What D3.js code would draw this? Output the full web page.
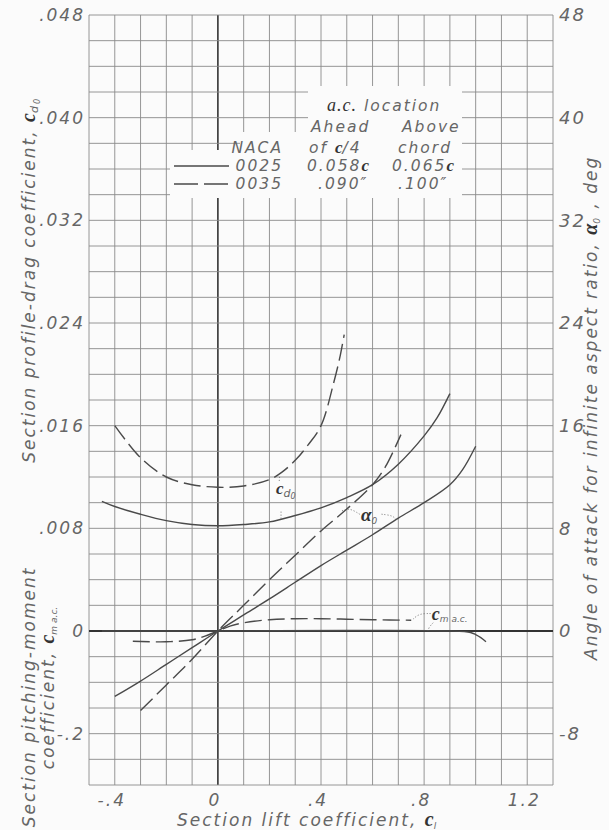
<!DOCTYPE html>
<html><head><meta charset="utf-8">
<script src="https://cdn.jsdelivr.net/npm/d3@7"></script>
<style>
body{margin:0;background:#fff}
svg text{font-family:"DejaVu Sans",sans-serif;font-style:italic;fill:#666;letter-spacing:2px}
svg .sym{font-family:"Liberation Serif",serif;font-weight:bold;font-style:italic;fill:#333;letter-spacing:0}
</style></head><body>
<svg id="chart" width="609" height="830"></svg>
<script>
// ---- data ----
const clTickVals = [-0.4, 0, 0.4, 0.8, 1.2];
const clTickLabels = ["-.4", "0", ".4", ".8", "1.2"];
const cdTickVals = [0, 0.008, 0.016, 0.024, 0.032, 0.040, 0.048];
const cdTickLabels = ["0", ".008", ".016", ".024", ".032", ".040", ".048"];
const cmTickVals = [-0.2];
const cmTickLabels = ["-.2"];
const alphaTickVals = [-8, 0, 8, 16, 24, 32, 40, 48];
const alphaTickLabels = ["-8", "0", "8", "16", "24", "32", "40", "48"];

const cd0025Cl = [-0.45,-0.4,-0.3,-0.2,-0.1,0,0.1,0.2,0.3,0.4,0.5,0.6,0.7,0.8,0.85,0.9];
const cd0025   = [0.0101,0.0097,0.0091,0.0086,0.0083,0.0082,0.0083,0.0085,0.0090,0.0096,0.0104,0.0114,0.0130,0.0152,0.0166,0.0185];
const cd0035Cl = [-0.4,-0.3,-0.2,-0.1,0,0.1,0.2,0.25,0.3,0.35,0.4,0.45,0.475,0.49];
const cd0035   = [0.0160,0.0135,0.0120,0.0114,0.0112,0.0113,0.0118,0.0124,0.0133,0.0145,0.0160,0.0194,0.0215,0.0231];

const alpha0025Cl = [-0.4,-0.3,-0.2,-0.1,0,0.1,0.2,0.3,0.4,0.5,0.6,0.7,0.8,0.9,0.95,1.0];
const alpha0025   = [-5.1,-3.9,-2.6,-1.3,0,1.25,2.5,3.8,5.1,6.3,7.5,8.8,10.0,11.4,12.6,14.4];
const alpha0035Cl = [-0.3,-0.2,-0.1,0,0.1,0.2,0.3,0.4,0.5,0.6,0.65,0.71];
const alpha0035   = [-6.2,-4.2,-2.2,0,2.0,4.0,5.9,7.8,9.5,11.4,12.8,15.3];

const cm0025Cl = [-0.45,0,0.5,0.9,0.98,1.0,1.02,1.04];
const cm0025   = [0.0,0.0,0.001,0.0,-0.003,-0.007,-0.013,-0.021];
const cm0035Cl = [-0.33,-0.2,-0.1,-0.05,0,0.05,0.1,0.2,0.3,0.4,0.5,0.6,0.75];
const cm0035   = [-0.020,-0.021,-0.017,-0.010,0,0.010,0.016,0.022,0.024,0.024,0.023,0.022,0.021];

// ---- layout ----
const svg = d3.select("#chart");
const L = 89, R = 553, T = 15, B = 785;
svg.append("rect").attr("width",609).attr("height",830).attr("fill","#fbfbfb");

const x = d3.scaleLinear([-0.5, 1.3], [L, R]);
const yCd = d3.scaleLinear([-0.012, 0.048], [B, T]);
const yA = d3.scaleLinear([-12, 48], [B, T]);
const yCm = d3.scaleLinear([-0.3, 1.2], [B, T]);

// grid
const g = svg.append("g");
const vGrid = d3.range(-5, 14).map(i => i / 10);
const hGrid = d3.range(-6, 25).map(i => i * 0.002);
g.selectAll("line.v").data(vGrid).join("line")
  .attr("x1", d => x(d)).attr("x2", d => x(d)).attr("y1", T).attr("y2", B)
  .attr("stroke", d => Math.abs(d) < 1e-9 ? "#333" : "#8a8a8a")
  .attr("stroke-width", d => Math.abs(d) < 1e-9 ? 1.6 : 0.9);
g.selectAll("line.h").data(hGrid).join("line")
  .attr("y1", d => yCd(d)).attr("y2", d => yCd(d)).attr("x1", L).attr("x2", R)
  .attr("stroke", d => Math.abs(d) < 1e-9 ? "#333" : "#8a8a8a")
  .attr("stroke-width", d => Math.abs(d) < 1e-9 ? 2 : 0.9);

// legend mask
const maskG = svg.append("g").attr("fill", "#fbfbfb");
maskG.append("rect").attr("x", 308).attr("y", 86).attr("width", 154).attr("height", 112);
maskG.append("rect").attr("x", 240).attr("y", 132).attr("width", 70).attr("height", 66);
maskG.append("rect").attr("x", 170).attr("y", 150).attr("width", 72).attr("height", 48);

// axis tick labels
const fs = 17;
svg.append("g").selectAll("text").data(clTickVals).join("text")
  .attr("x", d => x(d) - 3).attr("y", 806).attr("text-anchor", "middle")
  .attr("font-size", fs).text((d, i) => clTickLabels[i]);
svg.append("g").selectAll("text").data(cdTickVals).join("text")
  .attr("x", L - 4).attr("y", d => yCd(d)).attr("dy", "0.36em").attr("text-anchor", "end")
  .attr("font-size", fs).text((d, i) => cdTickLabels[i]);
svg.append("g").selectAll("text").data(cmTickVals).join("text")
  .attr("x", L - 4).attr("y", d => yCm(d)).attr("dy", "0.36em").attr("text-anchor", "end")
  .attr("font-size", fs).text((d, i) => cmTickLabels[i]);
svg.append("g").selectAll("text").data(alphaTickVals).join("text")
  .attr("x", R + 6).attr("y", d => yA(d)).attr("dy", "0.36em").attr("text-anchor", "start")
  .attr("font-size", fs + 1).text((d, i) => alphaTickLabels[i]);

// curves
const stroke = "#4a4a4a";
function curve(cls, vals, ys, dashed) {
  const pts = cls.map((c, i) => [x(c), ys(vals[i])]);
  svg.append("path").attr("d", d3.line().curve(d3.curveCatmullRom.alpha(0.5))(pts))
    .attr("fill", "none").attr("stroke", stroke).attr("stroke-width", 1.4)
    .attr("stroke-dasharray", dashed ? "17,6" : null);
}
curve(cd0025Cl, cd0025, yCd, false);
curve(cd0035Cl, cd0035, yCd, true);
curve(alpha0025Cl, alpha0025, yA, false);
curve(alpha0035Cl, alpha0035, yA, true);
curve(cm0025Cl, cm0025, yCm, false);
curve(cm0035Cl, cm0035, yCm, true);

// annotations (label anchors in data coordinates)
const dotted = sel => sel.attr("fill", "none").attr("stroke", "#666").attr("stroke-width", 0.9).attr("stroke-dasharray", "1,2");
// c_d0
const cdLab = {cl: 0.225, cd: 0.0107};
const t1 = svg.append("text").attr("x", x(cdLab.cl)).attr("y", yCd(cdLab.cd)).attr("style", "letter-spacing:0");
t1.append("tspan").attr("class", "sym").attr("font-size", 17).text("c");
t1.append("tspan").attr("font-size", 11).attr("dy", 3).text("d");
t1.append("tspan").attr("font-size", 8).attr("dy", 2).text("0");
dotted(svg.append("path")).attr("d", d3.line()([[x(0.238), yCd(0.0117)], [x(0.24), yCd(0.0121)]]));
dotted(svg.append("path")).attr("d", d3.line()([[x(0.245), yCd(0.0093)], [x(0.245), yCd(0.0087)]]));
// alpha0
const aLab = {cl: 0.555, a: 8.6};
const t2 = svg.append("text").attr("x", x(aLab.cl)).attr("y", yA(aLab.a)).attr("style", "letter-spacing:0");
t2.append("tspan").attr("class", "sym").attr("font-size", 19).text("α");
t2.append("tspan").attr("font-size", 9).attr("dy", 3).text("0");
dotted(svg.append("path")).attr("d", d3.line().curve(d3.curveBasis)([[x(0.55), yA(9.1)], [x(0.51), yA(9.6)], [x(0.48), yA(9.35)]]));
dotted(svg.append("path")).attr("d", d3.line().curve(d3.curveBasis)([[x(0.635), yA(9.1)], [x(0.68), yA(9.0)], [x(0.695), yA(8.6)]]));
// c_m a.c.
const cmLab = {cl: 0.83, cm: 0.022};
const t3 = svg.append("text").attr("x", x(cmLab.cl)).attr("y", yCm(cmLab.cm)).attr("style", "letter-spacing:0");
t3.append("tspan").attr("class", "sym").attr("font-size", 18).text("c");
t3.append("tspan").attr("font-size", 9).attr("dy", 2).text("m a.c.");
dotted(svg.append("path")).attr("d", d3.line().curve(d3.curveBasis)([[x(0.825), yCm(0.034)], [x(0.78), yCm(0.034)], [x(0.755), yCm(0.022)]]));
dotted(svg.append("path")).attr("d", d3.line().curve(d3.curveBasis)([[x(0.835), yCm(0.016)], [x(0.82), yCm(0.008)], [x(0.815), yCm(0.001)]]));

// legend
const lg = svg.append("g").attr("font-size", 15.5);
const lt = (xx, yy, anchor) => lg.append("text").attr("x", xx).attr("y", yy).attr("text-anchor", anchor || "start");
let t = lt(327, 111);
t.append("tspan").attr("class", "sym").attr("style", "font-weight:normal;letter-spacing:1px").attr("font-size", 18).text("a.c.");
t.append("tspan").text(" location");
lt(311, 132).text("Ahead");
lt(402, 132).text("Above");
lt(283, 153, "end").text("NACA");
t = lt(309, 153); t.append("tspan").text("of "); t.append("tspan").attr("class", "sym").attr("font-size", 17).text("c"); t.append("tspan").text("/4");
lt(398, 153).text("chord");
lt(283, 171, "end").text("0025");
t = lt(307, 171); t.append("tspan").text("0.058"); t.append("tspan").attr("class", "sym").attr("font-size", 17).text("c");
t = lt(392, 171); t.append("tspan").text("0.065"); t.append("tspan").attr("class", "sym").attr("font-size", 17).text("c");
lt(283, 189, "end").text("0035");
lt(318, 189).text(".090\u2033");
lt(398, 189).text(".100\u2033");
lg.append("line").attr("x1", 174).attr("x2", 229).attr("y1", 166).attr("y2", 166).attr("stroke", stroke).attr("stroke-width", 1.4);
lg.append("line").attr("x1", 174).attr("x2", 229).attr("y1", 184).attr("y2", 184).attr("stroke", stroke).attr("stroke-width", 1.4).attr("stroke-dasharray", "24,6");

// axis titles
const tf = 17;
t = svg.append("text").attr("transform", "translate(35,97) rotate(-90)").attr("text-anchor", "end").attr("font-size", tf);
t.append("tspan").text("Section profile-drag coefficient, ");
t.append("tspan").attr("class", "sym").attr("font-size", 20).text("c");
t.append("tspan").attr("font-size", 11).attr("dy", 3).text("d");
t.append("tspan").attr("font-size", 8).attr("dy", 2).text("0");

svg.append("text").attr("transform", "translate(35,697) rotate(-90)").attr("text-anchor", "middle").attr("font-size", tf)
  .text("Section pitching-moment");
t = svg.append("text").attr("transform", "translate(54,688) rotate(-90)").attr("text-anchor", "middle").attr("font-size", tf);
t.append("tspan").text("coefficient, ");
t.append("tspan").attr("class", "sym").attr("font-size", 20).text("c");
t.append("tspan").attr("font-size", 9).attr("dy", 3).attr("style", "letter-spacing:0").text("m a.c.");

t = svg.append("text").attr("transform", "translate(597,660) rotate(-90)").attr("text-anchor", "start").attr("font-size", tf);
t.append("tspan").text("Angle of attack for infinite aspect ratio, ");
t.append("tspan").attr("class", "sym").attr("font-size", 20).text("α");
t.append("tspan").attr("font-size", 9).attr("dy", 3).text("0");
t.append("tspan").attr("dy", -3).text(" , deg");

t = svg.append("text").attr("x", 177).attr("y", 826).attr("font-size", tf);
t.append("tspan").text("Section lift coefficient, ");
t.append("tspan").attr("class", "sym").attr("font-size", 20).text("c");
t.append("tspan").attr("font-size", 9).attr("dy", 3).text("l");
</script></body></html>
